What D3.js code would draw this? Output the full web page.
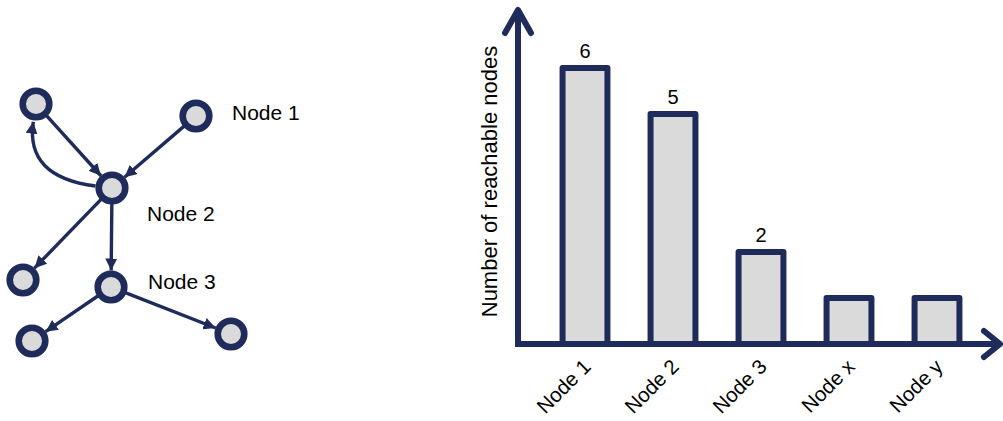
<!DOCTYPE html>
<html>
<head>
<meta charset="utf-8">
<script src="https://cdn.jsdelivr.net/npm/d3@7"></script>
<style>
  html, body { margin: 0; padding: 0; background: #ffffff; }
  svg { display: block; font-family: "Liberation Sans", Arial, sans-serif; }
</style>
</head>
<body>
<svg id="chart" width="1003" height="421"></svg>
<script>
// ---------- data ----------
const categories = ["Node 1", "Node 2", "Node 3", "Node x", "Node y"];
const values = [6, 5, 2, 1, 1];
const valueLabels = ["6", "5", "2", "", ""];
const yAxisTitle = "Number of reachable nodes";

// network diagram: node layout (abstract layout units) and directed edges
const netNodes = [
  { id: "a",  nx: 36,  ny: 104, label: "" },
  { id: "n1", nx: 196, ny: 116, label: "Node 1" },
  { id: "n2", nx: 112, ny: 188, label: "Node 2" },
  { id: "b",  nx: 23,  ny: 280, label: "" },
  { id: "n3", nx: 111, ny: 287, label: "Node 3" },
  { id: "c",  nx: 32,  ny: 341, label: "" },
  { id: "d",  nx: 231, ny: 334, label: "" }
];
const netEdges = [
  { source: "a",  target: "n2", curved: false },
  { source: "n1", target: "n2", curved: false },
  { source: "n2", target: "a",  curved: true  },
  { source: "n2", target: "b",  curved: false },
  { source: "n2", target: "n3", curved: false },
  { source: "n3", target: "c",  curved: false },
  { source: "n3", target: "d",  curved: false }
];

// ---------- styles ----------
const NAVY = "#1f2c5b";
const GREY = "#dadada";

const svg = d3.select("#chart");

// ---------- network diagram ----------
const nx = d3.scaleLinear().domain([0, 1]).range([0, 1]);
const ny = d3.scaleLinear().domain([0, 1]).range([0, 1]);
const nodeById = new Map(netNodes.map(d => [d.id, d]));
const R = 13.3, RO = 16.5;

const defs = svg.append("defs");
defs.append("marker")
  .attr("id", "arrow")
  .attr("viewBox", "0 0 12 12")
  .attr("refX", 12).attr("refY", 6)
  .attr("markerWidth", 12).attr("markerHeight", 12)
  .attr("markerUnits", "userSpaceOnUse")
  .attr("orient", "auto")
  .append("path")
  .attr("d", "M0,0 L12,6 L0,12 Z")
  .attr("fill", NAVY);

const net = svg.append("g");

net.selectAll("path.edge")
  .data(netEdges)
  .join("path")
  .attr("class", "edge")
  .attr("fill", "none")
  .attr("stroke", NAVY)
  .attr("stroke-width", 3.4)
  .attr("marker-end", "url(#arrow)")
  .attr("d", e => {
    const s = nodeById.get(e.source), t = nodeById.get(e.target);
    const sx = nx(s.nx), sy = ny(s.ny), tx = nx(t.nx), ty = ny(t.ny);
    if (!e.curved) {
      const dx = tx - sx, dy = ty - sy, L = Math.hypot(dx, dy);
      const ex = tx - dx / L * RO, ey = ty - dy / L * RO;
      const bx = sx + dx / L * R, by = sy + dy / L * R;
      const p = d3.path(); p.moveTo(bx, by); p.lineTo(ex, ey); return p.toString();
    }
    // curved edge bulging to the lower-left
    const p0x = sx - RO, p0y = sy - 2;
    const cx = nx(25), cy = ny(177);
    const dx = tx - cx, dy = ty - cy, L = Math.hypot(dx, dy);
    const ex = tx - dx / L * (RO + 1.5), ey = ty - dy / L * (RO + 1.5);
    const p = d3.path(); p.moveTo(p0x, p0y); p.quadraticCurveTo(cx, cy, ex, ey); return p.toString();
  });

net.selectAll("circle.node")
  .data(netNodes)
  .join("circle")
  .attr("class", "node")
  .attr("cx", d => nx(d.nx))
  .attr("cy", d => ny(d.ny))
  .attr("r", R)
  .attr("fill", GREY)
  .attr("stroke", NAVY)
  .attr("stroke-width", 6.6);

const labelOffset = { n1: [36, 4], n2: [35, 33], n3: [37, 2] };
net.selectAll("text.nlabel")
  .data(netNodes.filter(d => d.label))
  .join("text")
  .attr("class", "nlabel")
  .attr("x", d => nx(d.nx) + labelOffset[d.id][0])
  .attr("y", d => ny(d.ny) + labelOffset[d.id][1])
  .attr("font-size", 21)
  .attr("fill", "#000")
  .text(d => d.label);

// ---------- bar chart ----------
const x = d3.scaleBand()
  .domain(categories)
  .range([541, 981])
  .paddingInner(0.49)
  .paddingOuter(0.245);

const y = d3.scaleLinear()
  .domain([0, 7.26])
  .range([344, 10]);

const axisX0 = 518;
const bars = svg.append("g");

// x axis via d3 axis (labels), line drawn separately
const xAxisG = svg.append("g")
  .attr("transform", `translate(0,${y(0)})`)
  .call(d3.axisBottom(x).tickSize(0).tickSizeOuter(0));
xAxisG.select(".domain").remove();
xAxisG.selectAll("text")
  .attr("x", 0).attr("y", 0).attr("dy", 0)
  .attr("transform", "translate(7,24) rotate(-45)")
  .style("text-anchor", "end")
  .attr("font-size", 20.5)
  .attr("font-family", "Liberation Sans, Arial, sans-serif")
  .attr("fill", "#000");

bars.selectAll("rect")
  .data(categories)
  .join("rect")
  .attr("x", d => x(d))
  .attr("width", x.bandwidth())
  .attr("y", (d, i) => y(values[i]))
  .attr("height", (d, i) => y(0) - y(values[i]))
  .attr("fill", GREY)
  .attr("stroke", NAVY)
  .attr("stroke-width", 6)
  .attr("stroke-linejoin", "round");

// axis lines with arrowheads
const axes = svg.append("g")
  .attr("fill", "none")
  .attr("stroke", NAVY)
  .attr("stroke-width", 6)
  .attr("stroke-linecap", "round")
  .attr("stroke-linejoin", "round");

const line = d3.line();
const yTop = y.range()[1];
const xEnd = 1000;
axes.append("path").attr("d", line([[axisX0, y(0)], [xEnd - 2, y(0)]])).attr("stroke-linecap", "butt");
axes.append("path").attr("d", line([[axisX0, y(0) + 3], [axisX0, yTop + 2]])).attr("stroke-linecap", "butt");
axes.append("path").attr("d", line([[axisX0 - 13, yTop + 23], [axisX0, yTop], [axisX0 + 13, yTop + 23]]));
axes.append("path").attr("d", line([[xEnd - 16, y(0) - 13], [xEnd, y(0)], [xEnd - 16, y(0) + 13]]));

// value labels
bars.selectAll("text.val")
  .data(categories)
  .join("text")
  .attr("class", "val")
  .attr("x", d => x(d) + x.bandwidth() / 2)
  .attr("y", (d, i) => y(values[i]) - 10)
  .attr("text-anchor", "middle")
  .attr("font-size", 20)
  .attr("fill", "#000")
  .text((d, i) => valueLabels[i]);

// y axis title
svg.append("text")
  .attr("transform", `translate(497,${(46 + 317) / 2}) rotate(-90)`)
  .attr("text-anchor", "middle")
  .attr("font-size", 22)
  .attr("fill", "#000")
  .text(yAxisTitle);
</script>
</body>
</html>
